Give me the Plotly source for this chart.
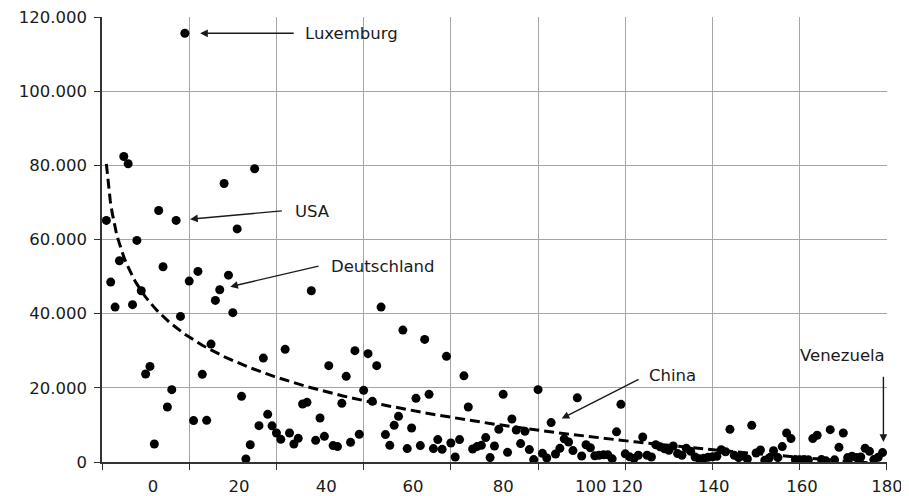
import numpy as np
import plotly.graph_objects as go

# Rank of each country (x) and GDP per capita (y)
rank = list(range(1, 180))
gdp = [
    65150, 48520, 41780, 54290, 82400, 80430, 42430, 59760, 46200, 23720,
    25790, 4850, 67840, 52670, 14820, 19510, 65150, 39270, 115630, 48790,
    11160, 51400, 23640, 11240, 31800, 43580, 46470, 75120, 50400, 40270,
    62860, 17710, 810, 4640, 79080, 9810, 28030, 12860, 9760, 7820,
    6120, 30380, 7820, 4850, 6390, 15630, 16090, 46200, 5850, 11860,
    6930, 25980, 4420, 4150, 15820, 23100, 5310, 30030, 7470, 19330,
    29220, 16360, 25980, 41780, 7390, 4500, 9890, 12320, 35580, 3610,
    9160, 17170, 4420, 33070, 18250, 3610, 6040, 3420, 28490, 5120,
    1350, 6040, 23230, 14820, 3500, 4150, 4500, 6580, 1190, 4310,
    8810, 18250, 2610, 11590, 8630, 4960, 8270, 3340, 650, 19510,
    2340, 1080, 10620, 2160, 3690, 6250, 5390, 3070, 17300, 1620,
    4640, 3830, 1670, 1810, 1940, 1940, 860, 8140, 15550, 2210,
    1400, 920, 1810, 6740, 1810, 1350, 4640, 4100, 3560, 3150,
    4310, 2260, 1810, 3690, 2880, 1350, 860, 1000, 1270, 1400,
    1540, 3290, 2750, 8810, 1810, 1190, 1620, 810, 9890, 2430,
    3230, 460, 1080, 3020, 1190, 4150, 7820, 6310, 650, 590,
    650, 590, 6310, 7200, 650, 320, 8730, 590, 3960, 7820,
    1190, 1540, 1190, 1350, 3690, 2880, 650, 1270, 2530,
]

grid_x = [0, 20, 40, 60, 80, 100, 120, 140, 160, 180]
xtick_pos = [11.7, 31.4, 51.4, 71.3, 92.0, 112.1, 120.4, 140.3, 160.5, 180.0]
xtick_text = ["0", "20", "40", "60", "80", "100", "120", "140", "160", "180"]
ytick_vals = [0, 20000, 40000, 60000, 80000, 100000, 120000]

# Labelled countries: name, text anchor (x, y), arrow tail (x, y), arrow tip (x, y)
labels = ["Luxemburg", "USA", "Deutschland", "China", "Venezuela"]
label_x = [46.0, 43.7, 52.0, 124.9, 159.5]
label_y = [115630, 67650, 52830, 23370, 28760]
tail_x = [44.3, 41.6, 50.0, 123.4, 179.2]
tail_y = [115630, 67760, 52940, 22480, 23370]
tip_x = [22.5, 20.2, 29.4, 105.4, 179.2]
tip_y = [115630, 65500, 47280, 11700, 5390]

FONT = "DejaVu Sans"
FS = 16.5
INK = "#1a1a1a"

# logarithmic trend line (least squares fit on the data, like a spreadsheet trendline)
b, a = np.polyfit(np.log(rank), gdp, 1)
tx = np.linspace(1, 180, 400)
ty = a + b * np.log(tx)

fig = go.Figure()
fig.add_trace(go.Scatter(
    x=tx, y=ty, mode="lines",
    line=dict(color="black", width=3, dash="10px,5px"),
    hoverinfo="skip", showlegend=False,
))
fig.add_trace(go.Scatter(
    x=rank, y=gdp, mode="markers",
    marker=dict(color="black", size=9),
    showlegend=False,
))
# invisible trace on the label axis
fig.add_trace(go.Scatter(x=[0], y=[0], xaxis="x2", mode="markers",
                         marker=dict(opacity=0), hoverinfo="skip", showlegend=False))

annotations = []
for i, name in enumerate(labels):
    annotations.append(dict(
        x=tip_x[i], y=tip_y[i], ax=tail_x[i], ay=tail_y[i],
        xref="x", yref="y", axref="x", ayref="y",
        text="", showarrow=True, arrowhead=2, arrowsize=1.1,
        arrowwidth=1.4, arrowcolor=INK,
    ))
    annotations.append(dict(
        x=label_x[i], y=label_y[i], xref="x", yref="y",
        text=name, showarrow=False, xanchor="left", yanchor="middle",
        font=dict(family=FONT, size=FS, color=INK),
    ))

# the page body has an 8px margin, so the figure is offset by 8px
fig.update_layout(
    width=901, height=488,
    margin=dict(l=94, r=22, t=9, b=34, autoexpand=False),
    paper_bgcolor="white", plot_bgcolor="white",
    separators=",.",
    font=dict(family=FONT, size=FS, color=INK),
    annotations=annotations,
    xaxis=dict(
        range=[0, 180.02], tickvals=grid_x, showticklabels=False,
        showgrid=True, gridcolor="#a6a6a6", gridwidth=1.3,
        ticks="outside", ticklen=6, tickcolor="#333333", tickwidth=1.3,
        showline=True, linecolor="#333333", linewidth=1.6,
        zeroline=False, automargin=False,
    ),
    xaxis2=dict(
        range=[0, 180.02], overlaying="x", anchor="y", side="bottom",
        tickvals=xtick_pos, ticktext=xtick_text, showgrid=False,
        ticks="", showline=False, zeroline=False, automargin=False,
        tickfont=dict(family=FONT, size=FS, color=INK),
        ticklabelstandoff=12, ticklabeloverflow="allow",
    ),
    yaxis=dict(
        range=[0, 120020], tickvals=ytick_vals, tickformat=",d",
        showgrid=True, gridcolor="#a6a6a6", gridwidth=1.3,
        ticks="outside", ticklen=6, tickcolor="#333333", tickwidth=1.3,
        showline=True, linecolor="#333333", linewidth=1.6,
        zeroline=False, automargin=False,
        tickfont=dict(family=FONT, size=FS, color=INK),
        ticklabelstandoff=4, ticklabeloverflow="allow",
    ),
)

fig.write_html("out.html")
